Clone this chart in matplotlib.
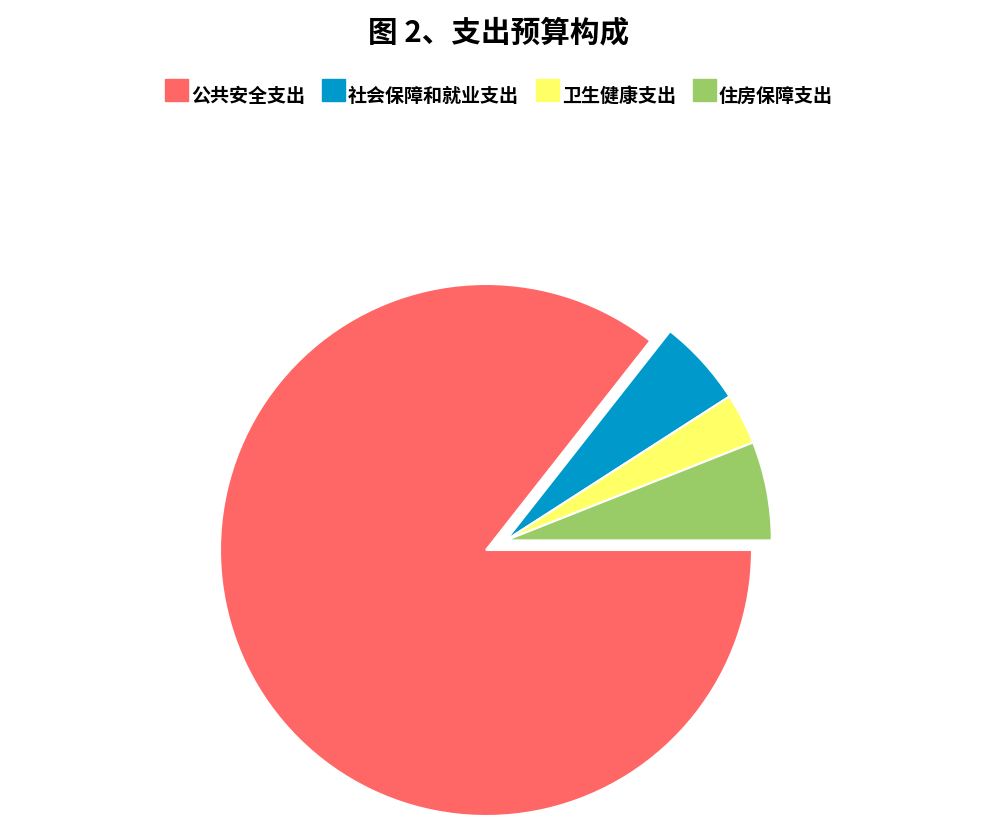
import numpy as np
import matplotlib
matplotlib.use("Agg")
import matplotlib.pyplot as plt
from matplotlib.patches import Rectangle

plt.rcParams['font.family'] = ['Noto Sans CJK SC', 'DejaVu Sans']

title = "图 2、支出预算构成"
labels = ["公共安全支出", "社会保障和就业支出", "卫生健康支出", "住房保障支出"]
values = [85.6, 5.3, 3.1, 6.0]
colors = ["#FF6666", "#0099CC", "#FFFF66", "#99CC66"]

W, H = 998, 819
cx, cy, R = 486, 550, 266   # pie centre / radius in pixels

fig = plt.figure(figsize=(W / 100, H / 100), dpi=100)
ax = fig.add_axes([0, 0, 1, 1])

wedges, _ = ax.pie(values, colors=colors, startangle=0, counterclock=False,
                   radius=1, wedgeprops=dict(edgecolor='white', linewidth=1.5))

# pie() resets the limits, so set them afterwards
ax.set_xlim(-cx / R, (W - cx) / R)
ax.set_ylim(-(H - cy) / R, cy / R)
ax.set_aspect('equal')
ax.axis('off')

# the small slices are pulled out together along their common bisector
frac = np.array(values) / sum(values)
small = frac[1:].sum()
mid = np.deg2rad(small / 2 * 360)
off = 22 / R
for w in wedges[1:]:
    w.set_center((off * np.cos(mid), off * np.sin(mid)))

fig.text(0.5, 1 - 32 / H, title, ha='center', va='center',
         fontsize=21.3, fontweight='bold')

# legend row, laid out by hand
fig.canvas.draw()
renderer = fig.canvas.get_renderer()
x = 165
y_txt = 96.5
for lab, col in zip(labels, colors):
    fig.patches.append(Rectangle((x / W, 1 - 101 / H), 23 / W, 22 / H,
                                 transform=fig.transFigure, color=col))
    t = fig.text((x + 26) / W, 1 - y_txt / H, lab, ha='left', va='center',
                 fontsize=13.7, fontweight='bold')
    bb = t.get_window_extent(renderer)
    x = x + 26 + bb.width + 17

fig.savefig("out.png", dpi=100)
